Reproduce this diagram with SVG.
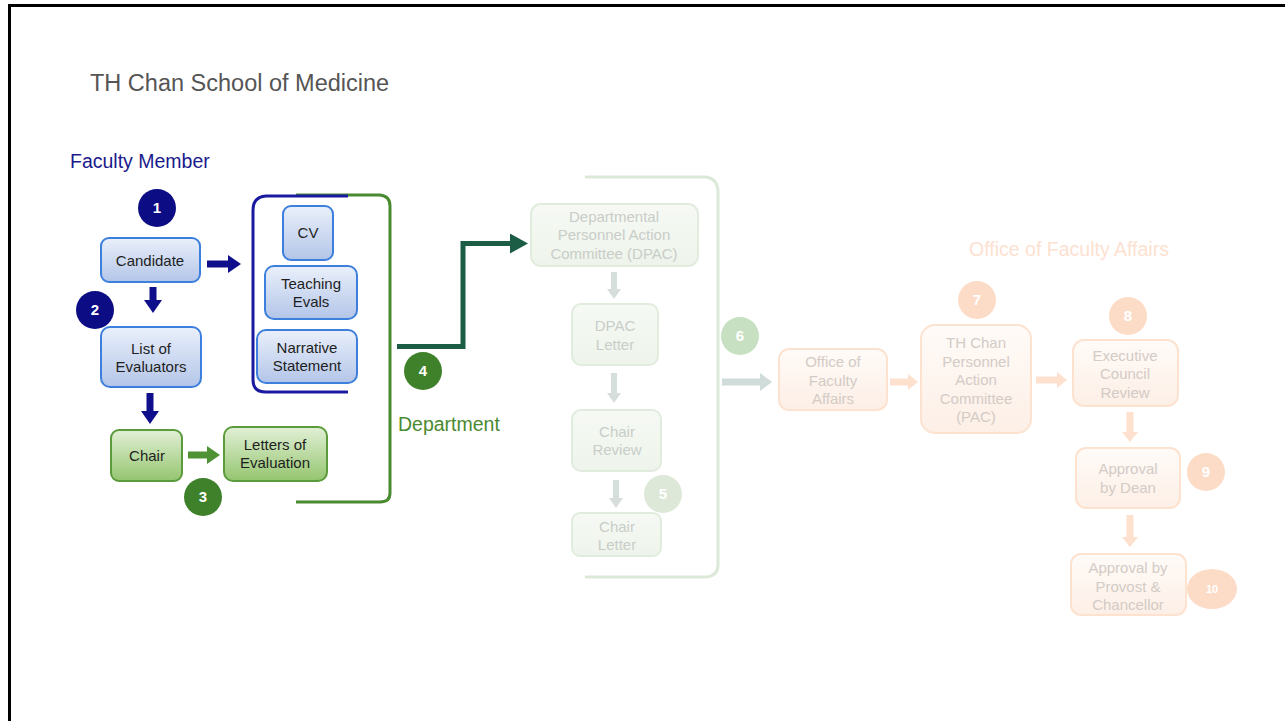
<svg xmlns="http://www.w3.org/2000/svg" width="1285" height="721" viewBox="0 0 1285 721">
<defs>
<style>
text{font-family:"Liberation Sans",Arial,sans-serif;text-anchor:middle}
.bl{fill:url(#gBlue);stroke:#3d7fdc;stroke-width:2}
.gr{fill:url(#gGreen);stroke:#5b9b3c;stroke-width:2}
.fg{fill:url(#gFadeG);stroke:#e2ecde;stroke-width:2}
.fo{fill:url(#gFadeO);stroke:#fde2d0;stroke-width:2}
.t{font-size:15px;fill:#1e1e1e}
.tf{font-size:15px;fill:#c9cdc9}
.to{font-size:15px;fill:#d3cbc6}
.cn{fill:#0c0c84}
.cg{fill:#3f812b}
.cfg{fill:#dde8d8}
.cfg6{fill:#c8e0c2}
.co{fill:#fddcc7}
.ct{font-size:15px;font-weight:bold;fill:#ffffff}
</style>
<linearGradient id="gBlue" x1="0" y1="0" x2="0" y2="1"><stop offset="0" stop-color="#eaf0fb"/><stop offset="1" stop-color="#b3c5e8"/></linearGradient>
<linearGradient id="gGreen" x1="0" y1="0" x2="0" y2="1"><stop offset="0" stop-color="#e2f0d6"/><stop offset="1" stop-color="#94c56f"/></linearGradient>
<linearGradient id="gFadeG" x1="0" y1="0" x2="0" y2="1"><stop offset="0" stop-color="#f6f9f4"/><stop offset="1" stop-color="#eef4eb"/></linearGradient>
<linearGradient id="gFadeO" x1="0" y1="0" x2="0" y2="1"><stop offset="0" stop-color="#fffbf8"/><stop offset="1" stop-color="#fdefe6"/></linearGradient>
<marker id="mNavy" markerUnits="userSpaceOnUse" markerWidth="13" markerHeight="18" refX="0" refY="9" orient="auto"><path d="M0,0 L13,9 L0,18 z" fill="#0f0f8c"/></marker>
<marker id="mGreen" markerUnits="userSpaceOnUse" markerWidth="13" markerHeight="18" refX="0" refY="9" orient="auto"><path d="M0,0 L13,9 L0,18 z" fill="#4f9234"/></marker>
<marker id="mDark" markerUnits="userSpaceOnUse" markerWidth="18" markerHeight="20" refX="0" refY="10" orient="auto"><path d="M0,0 L18,10 L0,20 z" fill="#1b5e45"/></marker>
<marker id="mGray" markerUnits="userSpaceOnUse" markerWidth="10" markerHeight="14" refX="0" refY="7" orient="auto"><path d="M0,0 L10,7 L0,14 z" fill="#d6dedb"/></marker>
<marker id="mTeal" markerUnits="userSpaceOnUse" markerWidth="12" markerHeight="18" refX="0" refY="9" orient="auto"><path d="M0,0 L12,9 L0,18 z" fill="#cfdcda"/></marker>
<marker id="mOr" markerUnits="userSpaceOnUse" markerWidth="10" markerHeight="16" refX="0" refY="8" orient="auto"><path d="M0,0 L10,8 L0,16 z" fill="#fde0cd"/></marker>
</defs>
<rect width="1285" height="721" fill="#ffffff"/>
<path d="M9.5,721 V5.5 H1285" fill="none" stroke="#000000" stroke-width="3"/>
<text x="90" y="91" style="font-size:23.5px;fill:#555555;text-anchor:start">TH Chan School of Medicine</text>
<text x="70" y="168" style="font-size:19.5px;fill:#1a1a8c;text-anchor:start">Faculty Member</text>
<text x="398" y="431" style="font-size:19.5px;fill:#4a8a30;text-anchor:start">Department</text>
<text x="1069" y="256" style="font-size:19.5px;fill:#fde1d1">Office of Faculty Affairs</text>

<g id="brackets" fill="none">
<path d="M296,195 H380 Q390,196 390,206 V493 Q390,502 380,502 H296" stroke="#4a8a30" stroke-width="3"/>
<path d="M348,196 H266 Q253,197 253,210 V380 Q253,392 266,392 H348" stroke="#1a1aa0" stroke-width="3"/>
<path d="M585,177 H706 Q718,179 718,192 V565 Q718,576 706,577 H585" stroke="#dce9d8" stroke-width="3"/>
</g>

<g id="connectors" fill="none">
<line x1="207" y1="264" x2="228" y2="264" stroke="#0f0f8c" stroke-width="7" marker-end="url(#mNavy)"/>
<line x1="153" y1="287" x2="153" y2="300" stroke="#0f0f8c" stroke-width="7" marker-end="url(#mNavy)"/>
<line x1="150" y1="393" x2="150" y2="411" stroke="#0f0f8c" stroke-width="7" marker-end="url(#mNavy)"/>
<line x1="188" y1="455" x2="207" y2="455" stroke="#4f9234" stroke-width="7" marker-end="url(#mGreen)"/>
<path d="M397,346.5 H463 V243.5 H510" stroke="#1b5e45" stroke-width="5" marker-end="url(#mDark)"/>
<line x1="614" y1="272" x2="614" y2="289" stroke="#d6dedb" stroke-width="6" marker-end="url(#mGray)"/>
<line x1="614" y1="373" x2="614" y2="393" stroke="#d6dedb" stroke-width="6" marker-end="url(#mGray)"/>
<line x1="616" y1="480" x2="616" y2="498" stroke="#d6dedb" stroke-width="6" marker-end="url(#mGray)"/>
<line x1="722" y1="382" x2="760" y2="382" stroke="#cfdcda" stroke-width="7" marker-end="url(#mTeal)"/>
<line x1="890" y1="382" x2="908" y2="382" stroke="#fde0cd" stroke-width="7" marker-end="url(#mOr)"/>
<line x1="1036" y1="380" x2="1057" y2="380" stroke="#fde0cd" stroke-width="7" marker-end="url(#mOr)"/>
<line x1="1130" y1="412" x2="1130" y2="432" stroke="#fde0cd" stroke-width="7" marker-end="url(#mOr)"/>
<line x1="1130" y1="515" x2="1130" y2="537" stroke="#fde0cd" stroke-width="7" marker-end="url(#mOr)"/>
</g>

<g id="c1"><circle cx="157" cy="208" r="19" class="cn"/><text x="157" y="213" class="ct">1</text></g>
<g id="c2"><circle cx="95" cy="310" r="19" class="cn"/><text x="95" y="315" class="ct">2</text></g>
<g id="c3"><circle cx="203" cy="497" r="19" class="cg"/><text x="203" y="502" class="ct">3</text></g>
<g id="c4"><circle cx="423" cy="371" r="19" class="cg"/><text x="423" y="376" class="ct">4</text></g>
<g id="c5"><circle cx="663" cy="494" r="19" class="cfg"/><text x="663" y="499" class="ct">5</text></g>
<g id="c6"><circle cx="740" cy="336" r="19" class="cfg6"/><text x="740" y="341" class="ct">6</text></g>
<g id="c7"><circle cx="977" cy="300" r="19" class="co"/><text x="977" y="305" class="ct">7</text></g>
<g id="c8"><circle cx="1128" cy="316" r="19" class="co"/><text x="1128" y="321" class="ct">8</text></g>
<g id="c9"><circle cx="1206" cy="472" r="19" class="co"/><text x="1206" y="477" class="ct">9</text></g>
<g id="c10"><ellipse cx="1212" cy="589" rx="25" ry="20" class="co"/><text x="1212" y="593" class="ct" style="font-size:11px">10</text></g>

<g id="candidate"><rect x="101" y="238" width="99" height="44" rx="8" class="bl"/><text x="150" y="266" class="t">Candidate</text></g>
<g id="evaluators"><rect x="101" y="327" width="100" height="60" rx="9" class="bl"/><text x="151" y="354" class="t">List of</text><text x="151" y="372" class="t">Evaluators</text></g>
<g id="cv"><rect x="283" y="206" width="50" height="54" rx="8" class="bl"/><text x="308" y="238" class="t">CV</text></g>
<g id="teaching"><rect x="265" y="266" width="92" height="53" rx="9" class="bl"/><text x="311" y="289" class="t">Teaching</text><text x="311" y="307" class="t">Evals</text></g>
<g id="narrative"><rect x="257" y="330" width="100" height="53" rx="9" class="bl"/><text x="307" y="353" class="t">Narrative</text><text x="307" y="371" class="t">Statement</text></g>
<g id="chair"><rect x="111" y="430" width="71" height="51" rx="8" class="gr"/><text x="147" y="461" class="t">Chair</text></g>
<g id="letters"><rect x="224" y="427" width="103" height="54" rx="9" class="gr"/><text x="275" y="450" class="t">Letters of</text><text x="275" y="468" class="t">Evaluation</text></g>

<g id="dpac"><rect x="531" y="204" width="167" height="62" rx="10" class="fg"/><text x="614" y="222" class="tf">Departmental</text><text x="614" y="240" class="tf">Personnel Action</text><text x="614" y="259" class="tf">Committee (DPAC)</text></g>
<g id="dpacletter"><rect x="572" y="304" width="86" height="61" rx="9" class="fg"/><text x="615" y="331" class="tf">DPAC</text><text x="615" y="350" class="tf">Letter</text></g>
<g id="chairreview"><rect x="572" y="410" width="89" height="61" rx="9" class="fg"/><text x="617" y="437" class="tf">Chair</text><text x="617" y="455" class="tf">Review</text></g>
<g id="chairletter"><rect x="572" y="513" width="89" height="43" rx="8" class="fg"/><text x="617" y="532" class="tf">Chair</text><text x="617" y="550" class="tf">Letter</text></g>

<g id="ofa"><rect x="779" y="349" width="108" height="61" rx="10" class="fo"/><text x="833" y="367" class="to">Office of</text><text x="833" y="386" class="to">Faculty</text><text x="833" y="404" class="to">Affairs</text></g>
<g id="pac"><rect x="921" y="325" width="110" height="108" rx="14" class="fo"/><text x="976" y="348" class="to">TH Chan</text><text x="976" y="367" class="to">Personnel</text><text x="976" y="385" class="to">Action</text><text x="976" y="404" class="to">Committee</text><text x="976" y="422" class="to">(PAC)</text></g>
<g id="exec"><rect x="1073" y="340" width="105" height="66" rx="11" class="fo"/><text x="1125" y="361" class="to">Executive</text><text x="1125" y="379" class="to">Council</text><text x="1125" y="398" class="to">Review</text></g>
<g id="dean"><rect x="1076" y="448" width="104" height="60" rx="10" class="fo"/><text x="1128" y="474" class="to">Approval</text><text x="1128" y="493" class="to">by Dean</text></g>
<g id="provost"><rect x="1071" y="554" width="115" height="61" rx="10" class="fo"/><text x="1128" y="573" class="to">Approval by</text><text x="1128" y="592" class="to">Provost &amp;</text><text x="1128" y="610" class="to">Chancellor</text></g>
</svg>
